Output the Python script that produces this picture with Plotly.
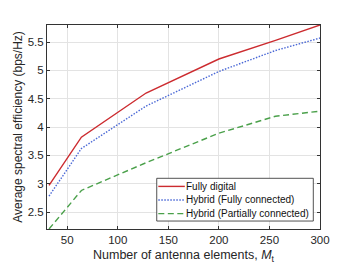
import plotly.graph_objects as go

M = [32, 64, 128, 200, 256, 300]
fully_digital = [2.97, 3.82, 4.60, 5.20, 5.53, 5.80]
hybrid_full = [2.78, 3.62, 4.37, 4.98, 5.35, 5.57]
hybrid_partial = [2.20, 2.88, 3.37, 3.89, 4.19, 4.28]

series_names = ["Fully digital", "Hybrid (Fully connected)", "Hybrid (Partially connected)"]
x_ticks = [50, 100, 150, 200, 250, 300]
y_ticks = [2.5, 3, 3.5, 4, 4.5, 5, 5.5]

FONT = "Liberation Sans, Arial, sans-serif"
colors = ["#cc2b2f", "#4a68d6", "#4aa04a"]
dashes = ["solid", "1.5px,1.5px", "6px,3.5px"]

fig = go.Figure()
for name, ys, c, d in zip(series_names, [fully_digital, hybrid_full, hybrid_partial], colors, dashes):
    fig.add_trace(go.Scatter(x=M, y=ys, mode="lines", name=name, showlegend=False,
                             line=dict(color=c, width=1.4, dash=d)))

axis_common = dict(
    showline=True, linecolor="#333333", linewidth=1, mirror="ticks",
    ticks="inside", ticklen=3, tickcolor="#333333", tickwidth=1,
    showgrid=True, gridcolor="#e3e3e3", gridwidth=1,
    zeroline=False, tickfont=dict(family=FONT, size=11.5, color="#262626"),
)

fig.update_xaxes(range=[30, 300], tickvals=x_ticks,
                 title=dict(text="Number of antenna elements, <i>M</i><sub>t</sub>",
                            font=dict(family=FONT, size=12.5, color="#262626"), standoff=5),
                 **axis_common)
fig.update_yaxes(range=[2.2, 5.8], tickvals=y_ticks,
                 title=dict(text="Average spectral efficiency (bps/Hz)",
                            font=dict(family=FONT, size=12, color="#262626"), standoff=2),
                 **axis_common)

# Custom legend box (paper coordinates)
box_x0, box_x1, box_y0, box_y1 = 0.402, 0.9755, 0.039, 0.2485
row_y = [0.2088, 0.1422, 0.0755]
sample_x0, sample_x1, text_x = 0.4077, 0.5048, 0.5055

shapes = [dict(type="rect", xref="paper", yref="paper", x0=box_x0, x1=box_x1,
               y0=box_y0, y1=box_y1, fillcolor="white",
               line=dict(color="#262626", width=0.8), layer="above")]
annotations = []
for name, c, d, ry in zip(series_names, colors, dashes, row_y):
    shapes.append(dict(type="line", xref="paper", yref="paper", x0=sample_x0, x1=sample_x1,
                       y0=ry, y1=ry, line=dict(color=c, width=1.4, dash=d), layer="above"))
    annotations.append(dict(text=name, xref="paper", yref="paper", x=text_x, y=ry,
                            xanchor="left", yanchor="middle", showarrow=False,
                            font=dict(family=FONT, size=10, color="#111111"), borderpad=0))

# page body has an 8px default margin, so the figure is sized to fit inside the window
fig.update_layout(
    width=346, height=267,
    margin=dict(l=39, r=34, t=17, b=46, autoexpand=False),
    paper_bgcolor="white", plot_bgcolor="white",
    font=dict(family=FONT, color="#262626"),
    showlegend=False,
    shapes=shapes, annotations=annotations,
)

fig.write_html("out.html")
